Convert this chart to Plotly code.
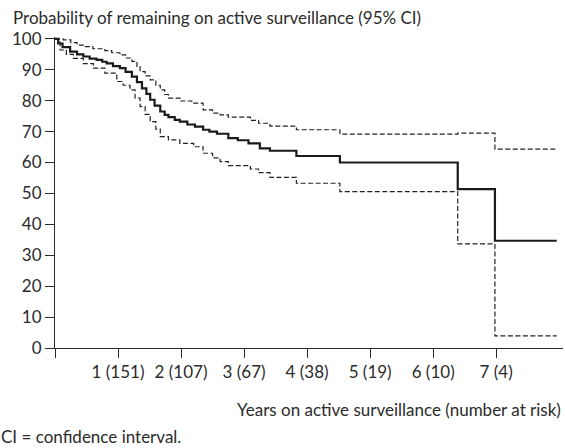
import plotly.graph_objects as go

# Kaplan-Meier estimate (years, % remaining on active surveillance)
km_t = [0, 0.05, 0.12, 0.24, 0.35, 0.45, 0.55, 0.66, 0.75, 0.82, 0.92, 1.03, 1.12, 1.22, 1.30,
        1.38, 1.45, 1.51, 1.58, 1.67, 1.74, 1.80, 1.90, 1.98, 2.10, 2.22, 2.35, 2.45, 2.57, 2.75,
        2.90, 3.07, 3.25, 3.41, 3.83, 4.52, 6.39, 6.98, 7.96]
km_v = [100, 98.5, 97.3, 95.9, 95.0, 94.3, 93.6, 93.2, 92.6, 92.1, 91.2, 90.5, 89.3, 87.8, 86.0,
        84.0, 82.2, 80.3, 78.4, 76.5, 75.4, 74.7, 73.8, 73.2, 72.3, 71.6, 70.6, 70.0, 69.3, 67.9,
        67.2, 66.2, 64.6, 63.8, 62.1, 60.0, 51.4, 34.7, 34.7]

# Upper 95% CI
up_t = [0, 0.13, 0.25, 0.35, 0.45, 0.60, 0.79, 0.90, 1.03, 1.12, 1.22, 1.30, 1.35, 1.43, 1.51,
        1.60, 1.67, 1.74, 1.80, 1.98, 2.17, 2.35, 2.50, 2.62, 2.75, 3.10, 3.23, 3.41, 3.83, 4.52,
        6.39, 6.98, 7.96]
up_v = [100, 99.7, 98.8, 98.0, 97.5, 96.8, 96.2, 95.5, 94.8, 93.8, 92.7, 91.0, 89.4, 88.0, 86.7,
        85.0, 83.5, 82.0, 80.8, 79.9, 79.2, 77.0, 76.0, 75.4, 74.7, 73.6, 72.7, 71.8, 70.6, 69.2,
        69.5, 64.3, 64.3]

# Lower 95% CI
lo_t = [0, 0.08, 0.18, 0.29, 0.45, 0.61, 0.79, 0.98, 1.08, 1.19, 1.27, 1.35, 1.43, 1.51, 1.60,
        1.67, 1.80, 1.98, 2.20, 2.35, 2.50, 2.62, 2.75, 3.10, 3.23, 3.41, 3.83, 4.52, 6.39, 6.98, 7.96]
lo_v = [100, 96.4, 95.0, 93.7, 92.0, 90.5, 88.9, 86.2, 85.0, 83.5, 80.8, 78.1, 75.6, 73.2, 70.8,
        68.4, 67.3, 66.2, 65.1, 63.0, 61.5, 60.3, 59.0, 57.9, 56.7, 55.2, 53.3, 50.6, 33.7, 3.9, 3.9]

x_tickvals = [0, 1, 2, 3, 4, 5, 6, 7]
x_ticktext = ["", "1 (151)", "2 (107)", "3 (67)", "4 (38)", "5 (19)", "6 (10)", "7 (4)"]
y_tickvals = [0, 10, 20, 30, 40, 50, 60, 70, 80, 90, 100]

FONT = "Lato"
FS = 17
INK = "#2b2b2b"

fig = go.Figure()
for t, v in [(up_t, up_v), (lo_t, lo_v)]:
    fig.add_trace(go.Scatter(x=t, y=v, mode="lines", line_shape="hv",
                             line=dict(color="#222222", width=1.2, dash="5px,2.5px"),
                             showlegend=False, hoverinfo="skip"))
fig.add_trace(go.Scatter(x=km_t, y=km_v, mode="lines", line_shape="hv",
                         line=dict(color="#1a1a1a", width=2.2), showlegend=False))

fig.update_layout(
    width=565, height=448,
    margin=dict(l=55, r=2, t=37, b=100),
    paper_bgcolor="white", plot_bgcolor="white",
    font=dict(family=FONT, size=FS, color=INK),
    xaxis=dict(range=[0, 8.06], tickvals=x_tickvals, ticktext=x_ticktext,
               showgrid=False, zeroline=False, showline=True, linecolor=INK, linewidth=1,
               ticks="outside", ticklen=9, tickcolor=INK, tickwidth=1,
               tickfont=dict(family=FONT, size=FS, color=INK)),
    yaxis=dict(range=[0, 100.6], tickvals=y_tickvals,
               showgrid=False, zeroline=False, showline=True, linecolor=INK, linewidth=1,
               ticks="outside", ticklen=9, tickcolor=INK, tickwidth=1,
               tickfont=dict(family=FONT, size=FS, color=INK)),
    annotations=[
        dict(text="Probability of remaining on active surveillance (95% CI)",
             xref="paper", yref="paper", x=-55/508, y=1 + 19/311, xanchor="left", yanchor="middle",
             showarrow=False, font=dict(family=FONT, size=FS, color=INK), xshift=11),
        dict(text="Years on active surveillance (number at risk)",
             xref="paper", yref="paper", x=1, y=-61/311, xanchor="right", yanchor="middle",
             showarrow=False, font=dict(family=FONT, size=FS, color=INK)),
        dict(text="CI = confidence interval.",
             xref="paper", yref="paper", x=-55/508, y=-88/311, xanchor="left", yanchor="middle",
             showarrow=False, font=dict(family=FONT, size=FS, color=INK), xshift=-1),
    ],
)

fig.write_html("out.html", config={"displayModeBar": False},
               post_script="document.body.style.margin='0px';")
